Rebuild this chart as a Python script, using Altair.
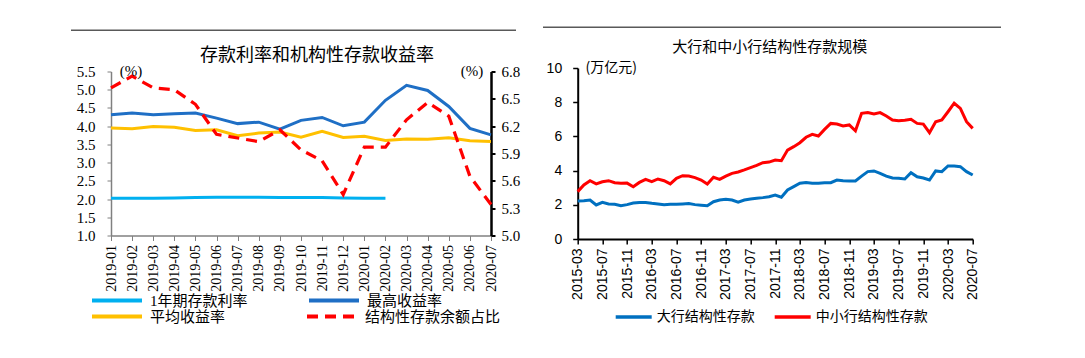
import altair as alt
import pandas as pd

# ---------------- left chart data ----------------
months_l = ["2019-01", "2019-02", "2019-03", "2019-04", "2019-05", "2019-06", "2019-07",
            "2019-08", "2019-09", "2019-10", "2019-11", "2019-12", "2020-01", "2020-02",
            "2020-03", "2020-04", "2020-05", "2020-06", "2020-07"]
series_l = ["1年期存款利率", "最高收益率", "平均收益率", "结构性存款余额占比"]
colors_l = ["#00B0F0", "#1F6FC5", "#FFC000", "#FF0000"]
rate_1y = [2.02, 2.02, 2.02, 2.03, 2.04, 2.05, 2.05, 2.05, 2.04, 2.04, 2.04, 2.03, 2.02, 2.02,
           None, None, None, None, None]
max_yield = [4.31, 4.36, 4.31, 4.34, 4.36, 4.22, 4.07, 4.11, 3.92, 4.16, 4.24, 4.01, 4.11,
             4.71, 5.12, 4.98, 4.54, 3.94, 3.76]
avg_yield = [3.95, 3.93, 3.99, 3.97, 3.88, 3.90, 3.74, 3.81, 3.84, 3.70, 3.86, 3.69, 3.72,
             3.61, 3.65, 3.64, 3.68, 3.60, 3.58]
struct_share = [6.62, 6.75, 6.62, 6.60, 6.44, 6.11, 6.07, 6.03, 6.16, 5.94, 5.82, 5.45, 5.97,
                5.97, 6.27, 6.46, 6.31, 5.65, 5.34]
left_ticks = [1.0, 1.5, 2.0, 2.5, 3.0, 3.5, 4.0, 4.5, 5.0, 5.5]
right_ticks = [5.0, 5.3, 5.6, 5.9, 6.2, 6.5, 6.8]

# ---------------- right chart data ----------------
months_r = [f"{y}-{m:02d}" for y in range(2015, 2021) for m in range(1, 13)]
months_r = [m for m in months_r if "2015-03" <= m <= "2020-07"]
series_r = ["大行结构性存款", "中小行结构性存款"]
big_bank = [2.22, 2.24, 2.28, 1.99, 2.14, 2.05, 2.03, 1.95, 2.01, 2.10, 2.14, 2.14, 2.09,
            2.05, 2.01, 2.03, 2.03, 2.05, 2.07, 2.01, 1.98, 1.95, 2.18, 2.28, 2.32, 2.28,
            2.16, 2.28, 2.34, 2.38, 2.42, 2.47, 2.57, 2.44, 2.87, 3.06, 3.26, 3.31, 3.26,
            3.26, 3.29, 3.29, 3.45, 3.41, 3.39, 3.39, 3.68, 3.94, 3.98, 3.84, 3.68, 3.57,
            3.55, 3.51, 3.88, 3.64, 3.57, 3.45, 3.98, 3.94, 4.27, 4.27, 4.23, 3.94, 3.74]
small_bank = [2.77, 3.16, 3.41, 3.22, 3.35, 3.41, 3.29, 3.26, 3.27, 3.06, 3.31, 3.49, 3.35,
              3.51, 3.41, 3.22, 3.55, 3.70, 3.68, 3.59, 3.45, 3.22, 3.61, 3.49, 3.68, 3.84,
              3.92, 4.04, 4.17, 4.30, 4.46, 4.50, 4.62, 4.58, 5.20, 5.40, 5.63, 5.95, 6.12,
              6.02, 6.41, 6.76, 6.72, 6.61, 6.67, 6.33, 7.35, 7.39, 7.31, 7.39, 7.19, 6.96,
              6.92, 6.95, 7.00, 6.76, 6.72, 6.22, 6.86, 6.96, 7.44, 7.94, 7.64, 6.86, 6.47]

SERIF = "Liberation Serif"
SANS = "Liberation Sans"
CJK = "Noto Sans CJK SC"
LEG_FONT = f"{SERIF}, {CJK}"


def long_df(names, arrays, months):
    rows = []
    for name, vals in zip(names, arrays):
        for m, v in zip(months, vals):
            if v is not None:
                rows.append({"month": m, "series": name, "value": v})
    return pd.DataFrame(rows)


df_l1 = long_df(series_l[0:2], [rate_1y, max_yield], months_l)
df_l2 = long_df(series_l[2:3], [avg_yield], months_l)
df_l3 = long_df(series_l[3:4], [struct_share], months_l)

x_left = alt.X("month:O", sort=months_l, scale=alt.Scale(type="point", padding=0),
               axis=alt.Axis(title=None, labelAngle=270, labelFont=SERIF, labelFontSize=14,
                             labelColor="black", domainColor="#808080", domainWidth=1.5,
                             tickColor="#808080", tickSize=5, labelPadding=4))
y_left = alt.Y("value:Q", scale=alt.Scale(domain=[1.0, 5.5], nice=False, zero=False),
               axis=alt.Axis(title=None, values=left_ticks, format=".1f", grid=False,
                             labelFont=SERIF, labelFontSize=15, labelColor="black",
                             domainColor="#808080", domainWidth=1.5, tickColor="#808080",
                             tickSize=4, labelPadding=12))
y_left2 = alt.Y("value:Q", scale=alt.Scale(domain=[5.0, 6.8], nice=False, zero=False),
                axis=alt.Axis(title=None, orient="right", values=right_ticks, format=".1f",
                              grid=False, labelFont=SERIF, labelFontSize=15, labelColor="black",
                              domainColor="black", domainWidth=2.5, tickColor="black",
                              tickWidth=2, tickSize=4, labelPadding=6))


def leg(x, y, col_pad=53, dash=None):
    kw = dict(orient="none", legendX=x, legendY=y, direction="horizontal",
              columnPadding=col_pad, symbolType="stroke", symbolSize=2500,
              symbolStrokeWidth=4, labelFont=LEG_FONT, labelFontSize=15, labelOffset=6,
              labelLimit=400, labelColor="black")
    if dash is not None:
        kw["symbolDash"] = dash
    return alt.Legend(**kw)


# row 1 of legend: 1年期存款利率, 最高收益率 ; row 2: 平均收益率, 结构性存款余额占比
line_l1 = alt.Chart(df_l1).mark_line(strokeWidth=3).encode(
    x=x_left, y=y_left,
    color=alt.Color("series:N", title=None, sort=series_l[0:2],
                    scale=alt.Scale(domain=series_l[0:2], range=colors_l[0:2]),
                    legend=leg(-21, 202)))
line_l2 = alt.Chart(df_l2).mark_line(strokeWidth=3).encode(
    x=x_left, y=y_left,
    color=alt.Color("series:N", title=None,
                    scale=alt.Scale(domain=series_l[2:3], range=colors_l[2:3]),
                    legend=leg(-21, 218)))
line_l3 = alt.Chart(df_l3).mark_line(strokeWidth=3.2, strokeDash=[11, 7]).encode(
    x=x_left, y=y_left2,
    color=alt.Color("series:N", title=None,
                    scale=alt.Scale(domain=series_l[3:4], range=colors_l[3:4]),
                    legend=leg(194, 218, dash=[11, 7])))


def label(text, x, y, size, font, weight="normal"):
    return alt.Chart(pd.DataFrame({"t": [text]})).mark_text(
        font=font, fontSize=size, color="black", fontWeight=weight
    ).encode(text="t:N", x=alt.value(x), y=alt.value(y))


def hline(x1, x2, y):
    return alt.Chart(pd.DataFrame({"a": [0]})).mark_rule(
        color="#595959", strokeWidth=1.5
    ).encode(x=alt.value(x1), x2=alt.value(x2), y=alt.value(y))


left_axis_group = alt.layer(line_l1, line_l2).resolve_scale(color="independent")
left = alt.layer(
    left_axis_group, line_l3,
    label("存款利率和机构性存款收益率", 206, -16, 18, CJK),
    label("(%)", 20, -1, 15, SERIF),
    label("(%)", 361, -1, 15, SERIF),
    hline(-40, 405, -41.2),
).resolve_scale(y="independent", color="independent").properties(width=380, height=164)

# ---------------- right chart ----------------
df_r = long_df(series_r, [big_bank, small_bank], months_r)
x_right = alt.X("month:O", sort=months_r, scale=alt.Scale(type="point", padding=0),
                axis=alt.Axis(title=None, values=months_r[::4], labelAngle=270, labelFont=SANS,
                              labelFontSize=14, labelColor="black", domainColor="black",
                              domainWidth=2, tickColor="black", tickWidth=1.5, tickSize=5,
                              labelPadding=4))
y_right = alt.Y("value:Q", scale=alt.Scale(domain=[0, 10], nice=False),
                axis=alt.Axis(title=None, values=[0, 2, 4, 6, 8, 10], grid=False,
                              labelFont=SANS, labelFontSize=14, labelColor="black",
                              domainColor="black", domainWidth=2, tickColor="black",
                              tickWidth=1.5, tickSize=5, labelPadding=11))
color_r = alt.Color("series:N", title=None, sort=series_r,
                    scale=alt.Scale(domain=series_r, range=["#0070C0", "#FF0000"]),
                    legend=alt.Legend(orient="none", legendX=36, legendY=229,
                                      direction="horizontal", symbolType="stroke",
                                      symbolSize=1296, symbolStrokeWidth=3.5,
                                      labelFont=CJK, labelFontSize=14, labelOffset=3,
                                      columnPadding=13, labelLimit=300, labelColor="black"))
right_lines = alt.Chart(df_r).mark_line(strokeWidth=3).encode(
    x=x_right, y=y_right, color=color_r)

right = alt.layer(
    right_lines,
    label("大行和中小行结构性存款规模", 192, -20.7, 15, CJK),
    label("(万亿元)", 33.5, -0.5, 14, CJK),
    hline(-34.7, 423.3, -40.7),
).properties(width=395, height=171)

chart = alt.hconcat(left, right, spacing=86.7, bounds="flush", center=True).resolve_scale(
    color="independent"
).properties(
    padding={"left": 62, "top": 18, "right": 5, "bottom": 5}
).configure_view(stroke=None).configure_axis(grid=False)

chart.save("out.html", embed_options={"renderer": "svg", "actions": False})
